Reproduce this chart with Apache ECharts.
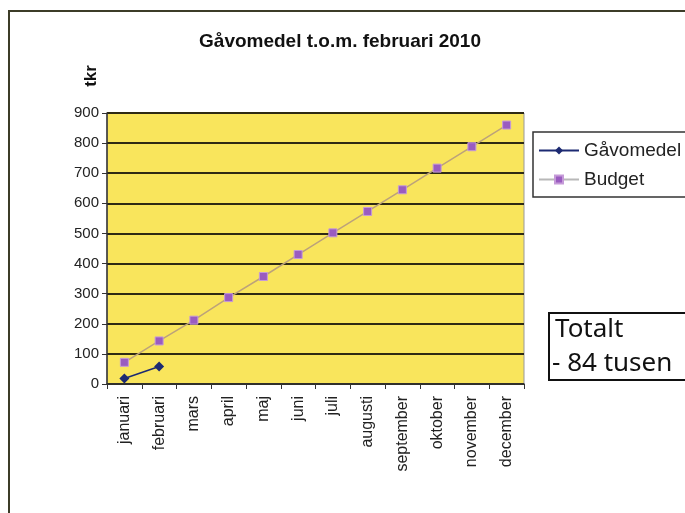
<!DOCTYPE html>
<html>
<head>
<meta charset="utf-8">
<script src="https://cdn.jsdelivr.net/npm/echarts@6/dist/echarts.min.js"></script>
<style>
  html, body { margin: 0; padding: 0; background: #fff; }
  #main { width: 685px; height: 513px; }
</style>
</head>
<body>
<div id="main"></div>
<script>
// månader och värden (tkr)
const months = ['januari', 'februari', 'mars', 'april', 'maj', 'juni', 'juli',
  'augusti', 'september', 'oktober', 'november', 'december'];
const gavomedel = [18, 58];
const budget = [72, 143, 212, 287, 357, 430, 502, 573, 645, 717, 788, 860];
const yTicks = [0, 100, 200, 300, 400, 500, 600, 700, 800, 900];

const chart = echarts.init(document.getElementById('main'));
chart.setOption({
  backgroundColor: '#fff',
  animation: false,
  title: {
    text: 'Gåvomedel t.o.m. februari 2010',
    left: 335,
    top: 27,
    textAlign: 'center',
    textStyle: { fontFamily: 'Liberation Sans', fontSize: 19, fontWeight: 'bold', color: '#111' }
  },
  legend: {
    orient: 'vertical',
    left: 533,
    top: 132,
    padding: [9, 20, 8, 5],
    itemGap: 10,
    itemWidth: 40,
    itemHeight: 10,
    borderColor: '#333',
    borderWidth: 1.5,
    textStyle: { fontFamily: 'Liberation Sans', fontSize: 19, color: '#222' },
    data: [
      { name: 'Gåvomedel' },
      { name: 'Budget', lineStyle: { color: '#b8b8b8' } }
    ]
  },
  grid: { left: 107, right: 161, top: 113, bottom: 129, show: true, backgroundColor: '#f9e55c', borderColor: '#999', borderWidth: 1 },
  xAxis: {
    type: 'category',
    data: months,
    boundaryGap: true,
    axisLine: { lineStyle: { color: '#333', width: 1.5 } },
    axisTick: { show: true, length: 5, lineStyle: { color: '#333' } },
    axisLabel: { rotate: 90, margin: 12, fontFamily: 'Liberation Sans', fontSize: 16, color: '#222' }
  },
  yAxis: {
    type: 'value',
    min: yTicks[0],
    max: yTicks[yTicks.length - 1],
    interval: 100,
    axisLine: { show: true, lineStyle: { color: '#333', width: 1.5 } },
    axisTick: { show: true, length: 5, lineStyle: { color: '#333' } },
    axisLabel: { margin: 8, fontFamily: 'Liberation Sans', fontSize: 15, color: '#222' },
    splitLine: { lineStyle: { color: '#2e2a14', width: 2 } }
  },
  graphic: [
    { type: 'rect', shape: { x: 9, y: 11, width: 700, height: 520 }, style: { fill: 'none', stroke: '#3c3c28', lineWidth: 2 }, silent: true },
    { type: 'text', x: 91, y: 76, rotation: Math.PI / 2, style: { text: 'tkr', fontFamily: 'Liberation Sans', fontSize: 17, fontWeight: 'bold', fill: '#111', align: 'center', verticalAlign: 'middle' } },
    { type: 'rect', shape: { x: 549, y: 313, width: 140, height: 67 }, style: { fill: '#fff', stroke: '#111', lineWidth: 2 } },
    { type: 'text', x: 555, y: 330, style: { text: 'Totalt', fontFamily: 'Noto Sans', fontSize: 26, fill: '#111', verticalAlign: 'middle' } },
    { type: 'text', x: 552, y: 364, style: { text: '- 84 tusen', fontFamily: 'Noto Sans', fontSize: 26, fill: '#111', verticalAlign: 'middle' } }
  ],
  series: [
    {
      name: 'Gåvomedel',
      type: 'line',
      data: gavomedel,
      symbol: 'diamond',
      symbolSize: 10,
      itemStyle: { color: '#1c2a72' },
      lineStyle: { color: '#1c2a72', width: 1.5 }
    },
    {
      name: 'Budget',
      type: 'line',
      data: budget,
      symbol: 'rect',
      symbolSize: 8,
      itemStyle: { color: '#9a5cc0', borderColor: '#c59ad8', borderWidth: 1 },
      lineStyle: { color: '#bca27a', width: 1.5 }
    }
  ]
});
</script>
</body>
</html>
